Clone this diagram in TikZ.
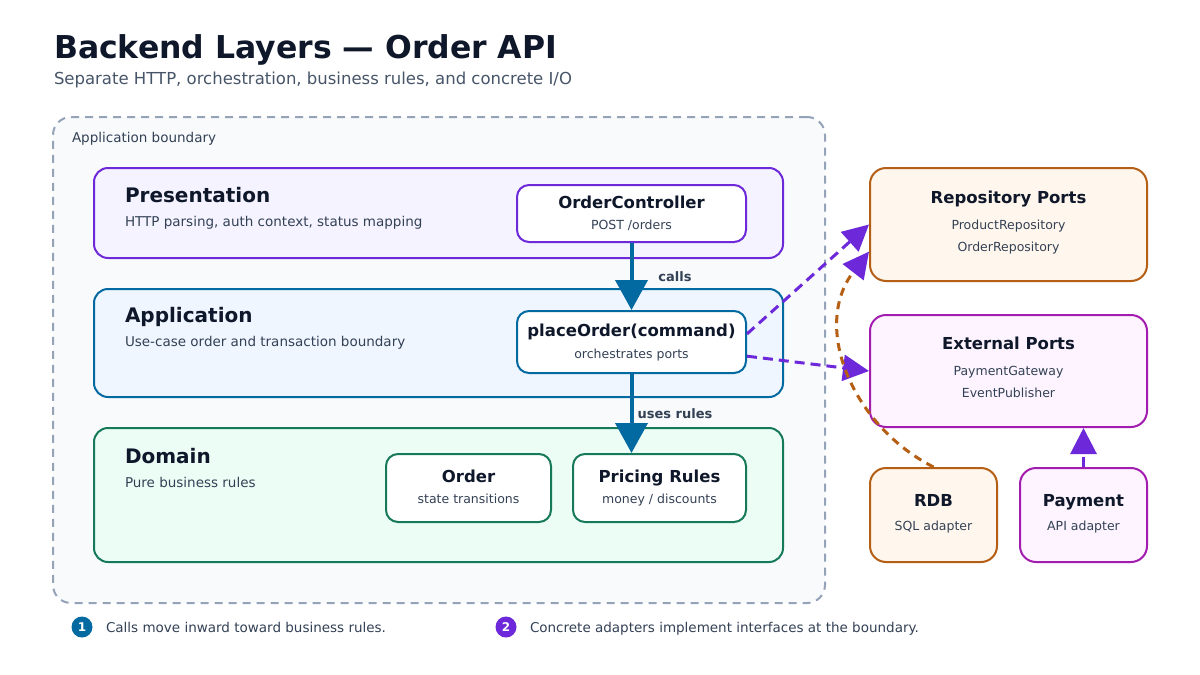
\documentclass[tikz,border=0pt]{standalone}
\usepackage{fontspec}
\setmainfont{DejaVu Sans}
\usetikzlibrary{arrows.meta, positioning, calc}
\definecolor{cink}{HTML}{0F172A}
\definecolor{ctext}{HTML}{334155}
\definecolor{cmuted}{HTML}{475569}
\definecolor{cgrey}{HTML}{94A3B8}
\definecolor{cblue}{HTML}{0369A1}
\definecolor{cpurple}{HTML}{6D28D9}
\definecolor{cgreen}{HTML}{15795A}
\definecolor{corange}{HTML}{B45F14}
\definecolor{cmagenta}{HTML}{A21CAF}
\definecolor{cbound}{HTML}{F8FAFC}
\definecolor{cpresfill}{HTML}{F5F3FF}
\definecolor{cappfill}{HTML}{EFF6FF}
\definecolor{cdomfill}{HTML}{ECFDF5}
\definecolor{crepofill}{HTML}{FFF7ED}
\definecolor{cextfill}{HTML}{FDF4FF}
\tikzset{
  every picture/.style={line width=2pt},
  layer/.style={draw=#1, rounded corners=14pt, inner sep=0pt},
  box/.style={draw=#1, fill=white, rounded corners=12pt, inner sep=0pt},
  port/.style={draw=#1, rounded corners=16pt, inner sep=0pt},
  arrow/.style={-{Triangle[length=30pt, width=32pt]}, draw=cblue, line width=4pt},
  link/.style={-{Triangle[length=26pt, width=26pt]}, draw=cpurple, line width=3pt, dash pattern=on 10pt off 6pt},
  layertitle/.style={font=\fontsize{20}{24}\selectfont\bfseries, text=cink, anchor=base west, inner sep=0pt},
  layertext/.style={font=\fontsize{13.5}{16}\selectfont, text=ctext, anchor=base west, inner sep=0pt},
  boxtitle/.style={font=\fontsize{16.5}{20}\selectfont\bfseries, text=cink, anchor=base, inner sep=0pt},
  boxtext/.style={font=\fontsize{12.5}{15}\selectfont, text=ctext, anchor=base, inner sep=0pt},
  edgelabel/.style={font=\fontsize{13}{16}\selectfont\bfseries, text=ctext, inner sep=0pt},
  badge/.style={circle, fill=#1, minimum size=21pt, inner sep=0pt, text=white, font=\fontsize{12}{12}\selectfont\bfseries},
}

\begin{document}
\begin{tikzpicture}[x=1pt, y=-1pt]
  \useasboundingbox (0,0) rectangle (1200,675);
  \fill[white] (0,0) rectangle (1200,675);
  % heading
  \node[anchor=base west, inner sep=0pt, font=\fontsize{31.5}{38}\selectfont\bfseries, text=cink] (title) at (53,58) {Backend Layers — Order API};
  \node[anchor=base west, inner sep=0pt, font=\fontsize{16.5}{20}\selectfont, text=cmuted] (subtitle) at (53,84) {Separate HTTP, orchestration, business rules, and concrete I/O};
  % boundary
  \node[draw=cgrey, fill=cbound, dash pattern=on 8pt off 6pt, rounded corners=18pt, minimum width=772pt, minimum height=486pt, inner sep=0pt] (bound) at (439,360) {};
  \node[layertext, text=ctext] (boundlbl) at (71,142) {Application boundary};
  % layers
  \node[layer=cpurple, fill=cpresfill, minimum width=689pt, minimum height=90pt] (pres) at (438.5,213) {};
  \node[layertitle] (prest) at (124,202) {Presentation};
  \node[layertext] (press) at (124,226) {HTTP parsing, auth context, status mapping};
  \node[layer=cblue, fill=cappfill, minimum width=689pt, minimum height=108pt] (app) at (438.5,343) {};
  \node[layertitle] (appt) at (124,322) {Application};
  \node[layertext] (apps) at (124,346) {Use-case order and transaction boundary};
  \node[layer=cgreen, fill=cdomfill, minimum width=689pt, minimum height=134pt] (dom) at (438.5,495) {};
  \node[layertitle] (domt) at (124,463) {Domain};
  \node[layertext] (doms) at (124,487) {Pure business rules};
  % components
  \node[box=cpurple, minimum width=229pt, minimum height=57pt] (ctrl) at (631.5,213.5) {};
  \node[boxtitle] (ctrlt) at (631.5,208) {OrderController};
  \node[boxtext] (ctrls) at (631.5,229) {POST /orders};
  \node[box=cblue, minimum width=229pt, minimum height=62pt] (place) at (631.5,342) {};
  \node[boxtitle] (placet) at (631.5,336) {placeOrder(command)};
  \node[boxtext] (places) at (631.5,358) {orchestrates ports};
  \node[box=cgreen, minimum width=165pt, minimum height=68pt] (order) at (468.5,488) {};
  \node[boxtitle] (ordert) at (468.5,482) {Order};
  \node[boxtext] (orders) at (468.5,503) {state transitions};
  \node[box=cgreen, minimum width=173pt, minimum height=68pt] (pricing) at (659.5,488) {};
  \node[boxtitle] (pricingt) at (659.5,482) {Pricing Rules};
  \node[boxtext] (pricings) at (659.5,503) {money / discounts};
  % ports and adapters
  \node[port=corange, fill=crepofill, minimum width=277pt, minimum height=113pt] (repo) at (1008.5,224.5) {};
  \node[boxtitle] (repot) at (1008.5,203) {Repository Ports};
  \node[boxtext] (repos1) at (1008.5,229) {ProductRepository};
  \node[boxtext] (repos2) at (1008.5,251) {OrderRepository};
  \node[port=cmagenta, fill=cextfill, minimum width=277pt, minimum height=112pt] (ext) at (1008.5,371) {};
  \node[boxtitle] (extt) at (1008.5,349) {External Ports};
  \node[boxtext] (exts1) at (1008.5,375) {PaymentGateway};
  \node[boxtext] (exts2) at (1008.5,397) {EventPublisher};
  \node[port=corange, fill=crepofill, minimum width=127pt, minimum height=94pt] (rdb) at (933.5,515) {};
  \node[boxtitle] (rdbt) at (933.5,506) {RDB};
  \node[boxtext] (rdbs) at (933.5,530) {SQL adapter};
  \node[port=cmagenta, fill=cextfill, minimum width=127pt, minimum height=94pt] (pay) at (1083.5,515) {};
  \node[boxtitle] (payt) at (1083.5,506) {Payment};
  \node[boxtext] (pays) at (1083.5,530) {API adapter};
  % connectors
  \draw[arrow] (ctrl) -- node[edgelabel, xshift=43.5pt] (callslbl) {calls} (place);
  \draw[arrow] (place) -- node[edgelabel, xshift=43.5pt] (ruleslbl) {uses rules} (pricing.north -| place);
  \draw[link] (place.4.5) -- (repo.west);
  \draw[link] (place.-7) -- (ext.west);
  \draw[link, draw=corange, -{Triangle[length=26pt, width=26pt, color=cpurple]}, dash pattern=on 8pt off 6pt] (rdb.north) .. controls +(-81,-41) and +(-58,75) .. (repo.191);
  \draw[link] (pay.north) -- (pay.north |- ext.south);
  % footer
  \node[badge=cblue] (n1) at (82,627) {1};
  \node[layertext] (foot1) at (105,632) {Calls move inward toward business rules.};
  \node[badge=cpurple] (n2) at (506,627) {2};
  \node[layertext] (foot2) at (529,632) {Concrete adapters implement interfaces at the boundary.};
\end{tikzpicture}
\end{document}
